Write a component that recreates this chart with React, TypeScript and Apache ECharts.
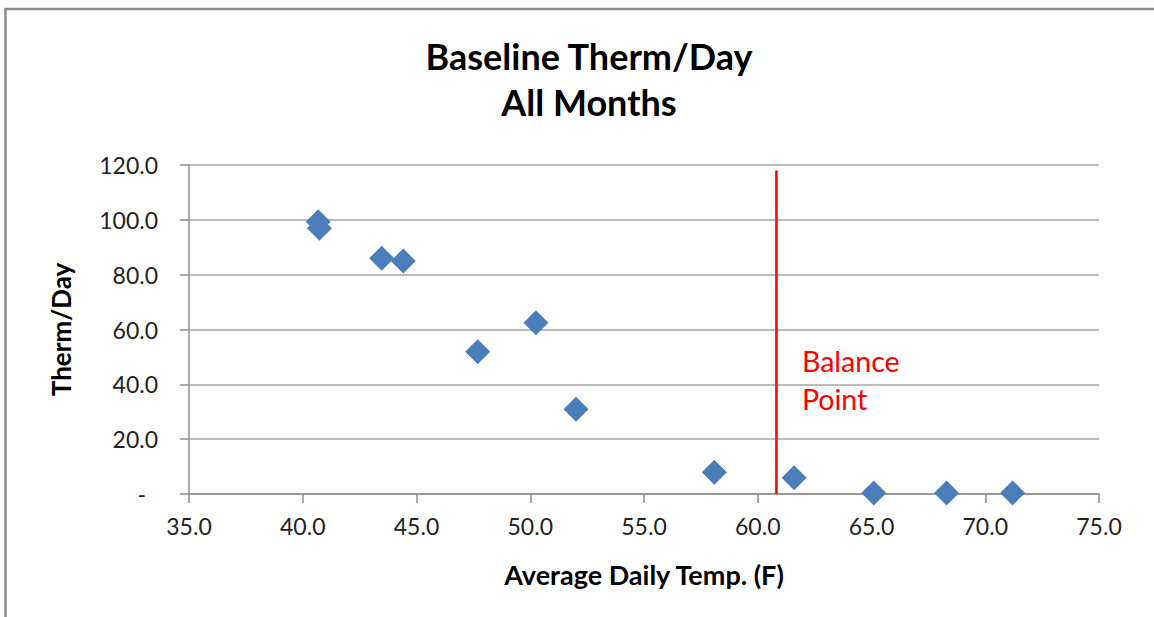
import React, { useEffect, useRef } from "react";
import * as echarts from "echarts";

const temps = [40.68, 40.73, 43.47, 44.42, 47.69, 50.25, 52.01, 58.09, 61.6, 65.1, 68.3, 71.2];
const therms = [99.3, 96.9, 86.0, 85.0, 51.9, 62.5, 30.9, 7.9, 5.9, 0.4, 0.4, 0.4];
const balanceTemp = 60.82;
const balanceSpan = [0, 118];
const xTicks = { min: 35, max: 75, interval: 5 };
const yTicks = { min: 0, max: 120, interval: 20 };

const FONT = "Lato";

export default function App() {
  const ref = useRef<HTMLDivElement>(null);
  useEffect(() => {
    if (!ref.current) return;
    const chart = echarts.init(ref.current, null, { renderer: "svg" });
    chart.setOption({
      animation: false,
      backgroundColor: "#ffffff",
      title: {
        text: "Baseline Therm/Day\nAll Months",
        left: 584,
        textAlign: "center",
        top: 28,
        textStyle: { fontFamily: FONT, fontSize: 36, fontWeight: "bold", color: "#000", lineHeight: 46 },
      },
      grid: { left: 189, right: 55, top: 165, bottom: 123 },
      xAxis: {
        type: "value",
        min: xTicks.min,
        max: xTicks.max,
        interval: xTicks.interval,
        name: "Average Daily Temp. (F)",
        nameLocation: "middle",
        nameGap: 67,
        nameTextStyle: { fontFamily: FONT, fontSize: 27, fontWeight: "bold", color: "#000" },
        axisLine: { show: true, lineStyle: { color: "#8c8c8c", width: 1.5 } },
        axisTick: { show: true, length: 9, lineStyle: { color: "#8c8c8c", width: 1.5 } },
        axisLabel: { fontFamily: FONT, fontSize: 23, color: "#222", margin: 20, formatter: (v: number) => v.toFixed(1) },
        splitLine: { show: false },
      },
      yAxis: {
        type: "value",
        min: yTicks.min,
        max: yTicks.max,
        interval: yTicks.interval,
        name: "Therm/Day",
        nameLocation: "middle",
        nameGap: 115,
        nameRotate: 90,
        nameTextStyle: { fontFamily: FONT, fontSize: 26, fontWeight: "bold", color: "#000" },
        axisLine: { show: true, lineStyle: { color: "#8c8c8c", width: 1.5 } },
        axisTick: { show: true, length: 9, lineStyle: { color: "#8c8c8c", width: 1.5 } },
        axisLabel: {
          fontFamily: FONT,
          fontSize: 23,
          color: "#222",
          margin: 31,
          formatter: (v: number) => (v === 0 ? "{d|-}" : v.toFixed(1)),
          rich: { d: { fontFamily: FONT, fontSize: 23, color: "#222", padding: [0, 12, 0, 0] } },
        },
        splitLine: { show: true, lineStyle: { color: "#a6a6a6", width: 1.5 } },
      },
      series: [
        {
          type: "scatter",
          data: temps.map((t, i) => [t, therms[i]]),
          symbol: "diamond",
          symbolSize: 25,
          itemStyle: { color: "#4a7ebb", opacity: 1 },
          z: 3,
        },
        {
          type: "line",
          data: balanceSpan.map((y) => [balanceTemp, y]),
          symbol: "none",
          lineStyle: { color: "#ff0000", width: 2.5 },
          z: 4,
        },
      ],
      graphic: [
        {
          type: "rect",
          shape: { x: 5.5, y: 9, width: 1200, height: 700 },
          style: { fill: "none", stroke: "#8a8a8a", lineWidth: 2.5 },
          silent: true,
        },
        {
          type: "text",
          left: 802,
          top: 342,
          style: {
            text: "Balance\nPoint",
            fontFamily: FONT,
            fontSize: 28.5,
            lineHeight: 38,
            fill: "#ff0000",
          },
        },
      ],
    });
    return () => chart.dispose();
  }, []);
  return (
    <div
      ref={ref}
      style={{ position: "fixed", left: 0, top: 0, width: 1154, height: 617, background: "#fff" }}
    />
  );
}
